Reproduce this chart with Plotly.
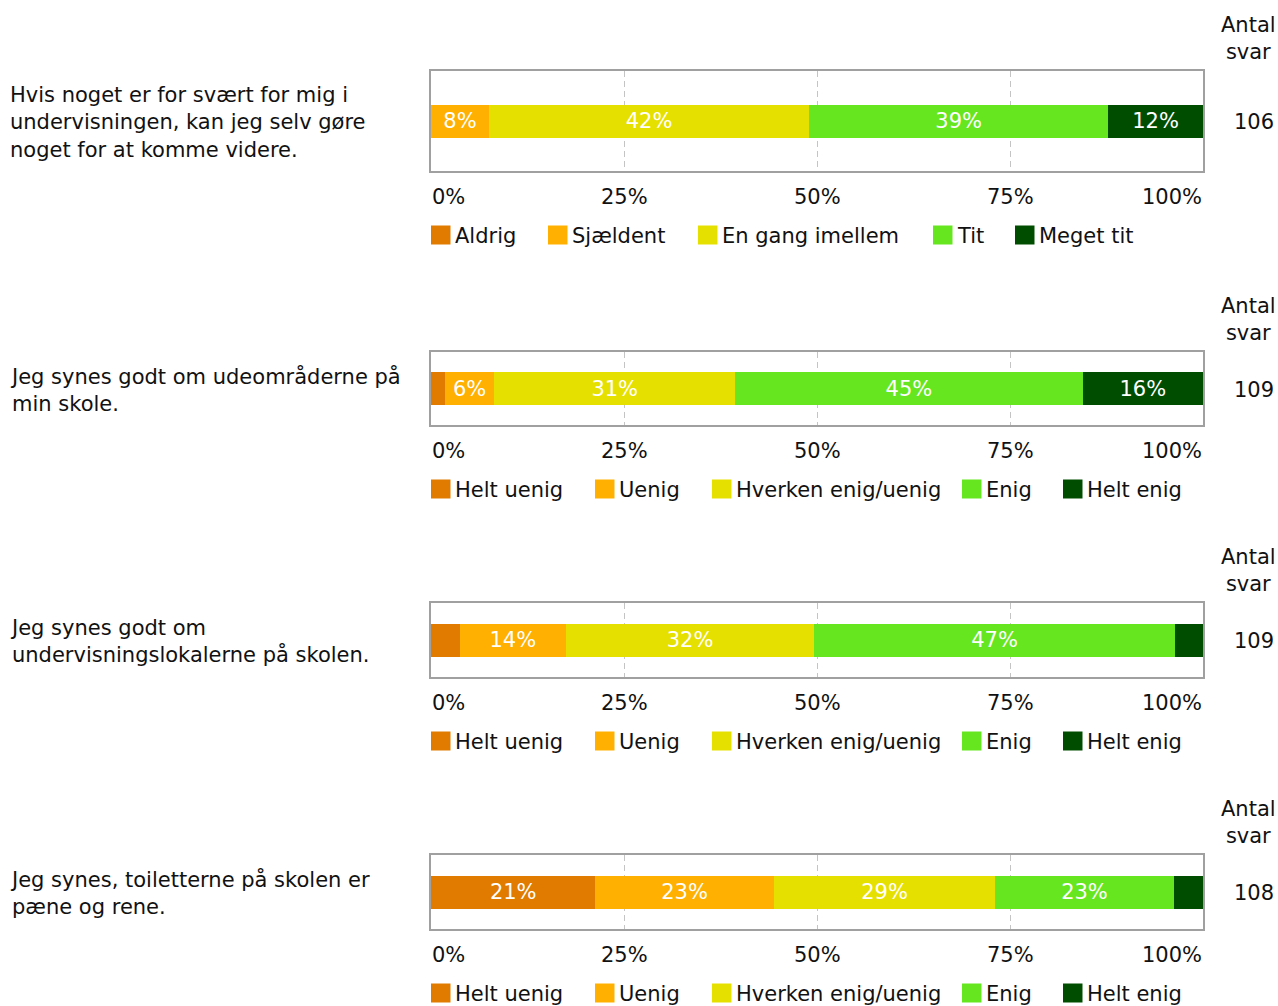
import plotly.graph_objects as go

# ---------------- data ----------------
questions = [
    "Hvis noget er for svært for mig i<br>undervisningen, kan jeg selv gøre<br>noget for at komme videre.",
    "Jeg synes godt om udeområderne på<br>min skole.",
    "Jeg synes godt om<br>undervisningslokalerne på skolen.",
    "Jeg synes, toiletterne på skolen er<br>pæne og rene.",
]
scale_freq = ["Aldrig", "Sjældent", "En gang imellem", "Tit", "Meget tit"]
scale_agree = ["Helt uenig", "Uenig", "Hverken enig/uenig", "Enig", "Helt enig"]
scales = [scale_freq, scale_agree, scale_agree, scale_agree]

values_q1 = [0.0, 7.5, 41.5, 38.7, 12.3]
values_q2 = [1.8, 6.4, 31.2, 45.0, 15.6]
values_q3 = [3.7, 13.8, 32.1, 46.8, 3.6]
values_q4 = [21.3, 23.1, 28.7, 23.1, 3.8]
values = [values_q1, values_q2, values_q3, values_q4]

counts = [106, 109, 109, 108]
count_header = "Antal<br>svar"

tick_vals = [0, 25, 50, 75, 100]
tick_labels = ["0%", "25%", "50%", "75%", "100%"]

colors = ["#e07b00", "#ffb000", "#e6e000", "#66e61e", "#004d00"]

# ---------------- layout constants (pixels) ----------------
W, H = 1278, 1006
X0, X1 = 431, 1203
boxes = [(71, 171), (352, 425), (603, 677), (855, 929)]
bar_px = 33
legend_x = [[431, 548, 698, 933, 1015]] + [[431, 595, 712, 962, 1063]] * 3
FONT = "DejaVu Sans, Verdana, sans-serif"
FS = 21


def px(x):
    return x / W


def py(y):
    return 1 - y / H


fig = go.Figure()
annotations = []
shapes = []

for i, (q, scale, vals, n, (top, bot)) in enumerate(zip(questions, scales, values, counts, boxes)):
    k = "" if i == 0 else str(i + 1)
    box_h = bot - top
    bw = bar_px / box_h
    for lab, v, c in zip(scale, vals, colors):
        fig.add_trace(go.Bar(
            x=[v], y=[0], orientation="h", width=bw,
            marker=dict(color=c, line=dict(width=0)),
            text=[f"{round(v)}%" if v >= 5 else ""],
            textposition="inside", insidetextanchor="middle",
            textfont=dict(color="white", size=FS, family=FONT),
            name=lab, showlegend=False,
            xaxis="x" + k, yaxis="y" + k,
            hovertemplate=lab + ": %{x}%<extra></extra>",
        ))
    fig.layout["xaxis" + k] = dict(
        domain=[px(X0), px(X1)], range=[0, 100], anchor="y" + k,
        tickvals=tick_vals, showticklabels=False, ticks="",
        showgrid=True, gridcolor="#c4c4c4", gridwidth=1, griddash="6px,4px",
        zeroline=False, showline=True, mirror=True, linecolor="#a0a0a0", linewidth=1.5,
        fixedrange=True,
    )
    fig.layout["yaxis" + k] = dict(
        domain=[py(bot), py(top)], range=[-0.5, 0.5], anchor="x" + k,
        showticklabels=False, ticks="", showgrid=False, zeroline=False,
        showline=True, mirror=True, linecolor="#a0a0a0", linewidth=1.5,
        fixedrange=True,
    )
    mid = (top + bot) / 2
    # question text
    annotations.append(dict(
        text=q, x=px(7.5), y=py(mid + 1), xref="paper", yref="paper",
        xanchor="left", yanchor="middle", align="left", showarrow=False,
        font=dict(size=FS, color="#111111", family=FONT),
    ))
    # Antal svar header
    annotations.append(dict(
        text=count_header, x=px(1248), y=py(top - 33), xref="paper", yref="paper",
        xanchor="center", yanchor="middle", align="center", showarrow=False,
        font=dict(size=FS, color="#111111", family=FONT),
    ))
    annotations.append(dict(
        text=str(n), x=px(1276), y=py(mid + 1), xref="paper", yref="paper",
        xanchor="right", yanchor="middle", showarrow=False,
        font=dict(size=FS, color="#111111", family=FONT),
    ))
    # tick labels
    for j, (tv, tl) in enumerate(zip(tick_vals, tick_labels)):
        anchor = "left" if j == 0 else ("right" if j == len(tick_vals) - 1 else "center")
        annotations.append(dict(
            text=tl, x=tv, xref="x" + k, y=py(bot + 26), yref="paper",
            xanchor=anchor, yanchor="middle", showarrow=False,
            xshift=-1 if j == 0 else (1 if j == len(tick_vals) - 1 else 0),
            font=dict(size=FS, color="#111111", family=FONT),
        ))
    # legend
    ly = bot + 64
    for lx, lab, c in zip(legend_x[i], scale, colors):
        shapes.append(dict(
            type="rect", xref="paper", yref="paper",
            x0=px(lx), x1=px(lx + 19.5), y0=py(ly + 9.5), y1=py(ly - 9.5),
            fillcolor=c, line=dict(width=0),
        ))
        annotations.append(dict(
            text=lab, x=px(lx + 22), y=py(ly + 1), xref="paper", yref="paper",
            xanchor="left", yanchor="middle", showarrow=False,
            font=dict(size=FS, color="#111111", family=FONT),
        ))

fig.update_layout(
    width=W, height=H, margin=dict(l=0, r=0, t=0, b=0),
    barmode="stack", paper_bgcolor="white", plot_bgcolor="white",
    font=dict(family=FONT, size=FS, color="#111111"),
    annotations=annotations, shapes=shapes, showlegend=False,
)

fig.write_html("out.html", config={"displayModeBar": False},
               post_script="document.body.style.margin='0';")
